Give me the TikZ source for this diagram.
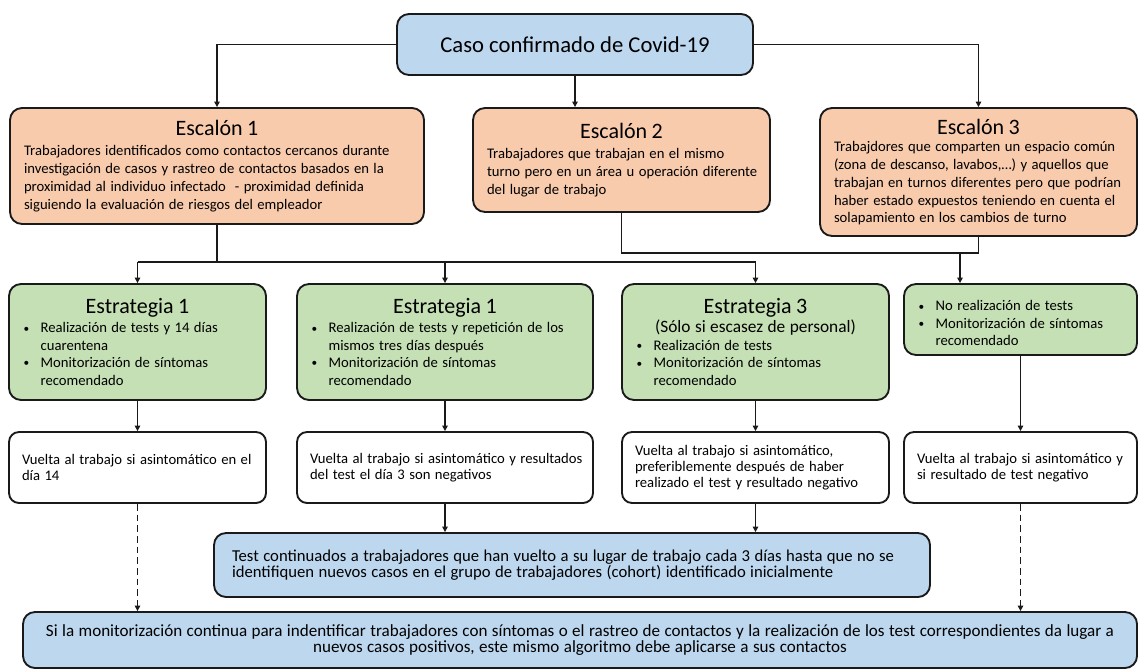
\documentclass[tikz,border=0pt]{standalone}
\usepackage{fontspec}
\setmainfont{Carlito}
\usetikzlibrary{arrows.meta}
\newdimen\px \px=0.75pt
\definecolor{cblue}{HTML}{BDD7EE}
\definecolor{corange}{HTML}{F8CBAD}
\definecolor{cgreen}{HTML}{C5E0B4}
\definecolor{cedge}{HTML}{1A1A1A}
\newcommand{\ttlf}{\fontsize{16.5}{19}\selectfont}
\newcommand{\bdyf}{\fontsize{11}{13.3}\selectfont}
\newcommand{\bulf}{\fontsize{11}{13.1}\selectfont}
\newcommand{\whtf}{\fontsize{11}{12.4}\selectfont}
\newcommand{\bitem}{\par\noindent\hangindent=17\px\hangafter=1\makebox[17\px][l]{\raisebox{0.1ex}{\fontsize{8.5}{8.5}\selectfont\textbullet}}}
\tikzset{
  box/.style={draw=cedge, line width=1.4pt, rounded corners=9pt, inner ysep=0pt, align=left},
  bluebox/.style={box, fill=cblue},
  orangebox/.style={box, fill=corange},
  greenbox/.style={box, fill=cgreen, inner xsep=11pt},
  whitebox/.style={box, fill=white, rounded corners=7.5pt, inner xsep=9.75pt},
  line/.style={draw=cedge, line width=1.2pt},
  conn/.style={line, -{Triangle[length=4pt,width=4pt]}},
  dashconn/.style={conn, dash pattern=on 5pt off 3pt}
}
\begin{document}
\begin{tikzpicture}[x=0.75pt,y=-0.75pt]
\useasboundingbox (0,0) rectangle (1138,670);
% top
\node[bluebox, align=center, minimum width=267pt, minimum height=45.75pt, inner xsep=0pt] (caso) at (575,44.5) {\fontsize{17}{20}\selectfont Caso confirmado de Covid-19};
% escalones
\node[orangebox, inner xsep=10.5pt, text width=289.5pt, minimum height=87pt] (e1) at (217,166)
 {{\centering\ttlf Escal\'on 1\par}\vspace{2pt}\raggedright\bdyf
 \mbox{Trabajadores identificados como contactos cercanos durante}\\
 \mbox{investigaci\'on de casos y rastreo de contactos basados en la}\\
 \mbox{proximidad al individuo infectado\ \ - proximidad definida}\\
 \mbox{siguiendo la evaluaci\'on de riesgos del empleador}\par};
\node[orangebox, inner xsep=10.5pt, text width=201.75pt, minimum height=78pt] (e2) at (621.5,160)
 {{\centering\ttlf Escal\'on 2\par}\vspace{2pt}\raggedright\bdyf
 \mbox{Trabajadores que trabajan en el mismo}\\
 \mbox{turno pero en un \'area u operaci\'on diferente}\\
 \mbox{del lugar de trabajo}\par};
\node[orangebox, inner xsep=10.5pt, text width=216.75pt, minimum height=96pt] (e3) at (978.5,172)
 {{\centering\ttlf Escal\'on 3\par}\raggedright\bdyf
 \mbox{Trabajdores que comparten un espacio com\'un}\\
 \mbox{(zona de descanso, lavabos,\dots) y aquellos que}\\
 \mbox{trabajan en turnos diferentes pero que podr\'ian}\\
 \mbox{haber estado expuestos teniendo en cuenta el}\\
 \mbox{solapamiento en los cambios de turno}\par};
% estrategias
\node[greenbox, text width=170.75pt, minimum height=87pt] (s1) at (137.5,342)
 {{\centering\ttlf Estrategia 1\par}\vspace{1pt}\bulf
 \bitem \mbox{Realizaci\'on de tests y 14 d\'ias}\newline\mbox{cuarentena}
 \bitem \mbox{Monitorizaci\'on de s\'intomas}\newline\mbox{recomendado}\par};
\node[greenbox, text width=200pt, minimum height=87pt] (s2) at (445,342)
 {{\centering\ttlf Estrategia 1\par}\vspace{1pt}\bulf
 \bitem \mbox{Realizaci\'on de tests y repetici\'on de los}\newline\mbox{mismos tres d\'ias despu\'es}
 \bitem \mbox{Monitorizaci\'on de s\'intomas}\newline\mbox{recomendado}\par};
\node[greenbox, text width=178.25pt, minimum height=87pt] (s3) at (755.5,342)
 {{\centering\ttlf Estrategia 3\par}{\centering\fontsize{13}{14.5}\selectfont (S\'olo si escasez de personal)\par}\bulf
 \bitem \mbox{Realizaci\'on de tests}
 \bitem \mbox{Monitorizaci\'on de s\'intomas}\newline\mbox{recomendado}\par};
\node[greenbox, text width=152.75pt, minimum height=53.25pt] (s4) at (1020.5,319.5)
 {\bulf
 \bitem \mbox{No realizaci\'on de tests}
 \bitem \mbox{Monitorizaci\'on de s\'intomas}\newline\mbox{recomendado}\par};
% white boxes
\node[whitebox, text width=173.25pt, minimum height=53.25pt] (w1) at (137.5,467.5)
 {\whtf \mbox{Vuelta al trabajo si asintom\'atico en el}\\ \mbox{d\'ia 14}};
\node[whitebox, text width=202.5pt, minimum height=53.25pt] (w2) at (445,467.5)
 {\whtf \mbox{Vuelta al trabajo si asintom\'atico y resultados}\\ \mbox{del test el d\'ia 3 son negativos}};
\node[whitebox, text width=180.75pt, minimum height=53.25pt] (w3) at (755.5,467.5)
 {\whtf \mbox{Vuelta al trabajo si asintom\'atico,}\\ \mbox{preferiblemente despu\'es de haber}\\ \mbox{realizado el test y resultado negativo}};
\node[whitebox, text width=155.25pt, minimum height=53.25pt] (w4) at (1020.5,467.5)
 {\whtf \mbox{Vuelta al trabajo si asintom\'atico y}\\ \mbox{si resultado de test negativo}};
% bottom blue boxes
\node[bluebox, inner xsep=13.5pt, text width=510pt, minimum height=48pt] (test) at (572,565)
 {\fontsize{12.5}{12.5}\selectfont \mbox{Test continuados a trabajadores que han vuelto a su lugar de trabajo cada 3 d\'ias hasta que no se}\\
 \mbox{identifiquen nuevos casos en el grupo de trabajadores (cohort) identificado inicialmente}};
\node[bluebox, align=center, inner xsep=9pt, text width=817.5pt, minimum height=42pt] (final) at (580,640)
 {\fontsize{12.8}{12.5}\selectfont \mbox{Si la monitorizaci\'on continua para indentificar trabajadores con s\'intomas o el rastreo de contactos y la realizaci\'on de los test correspondientes da lugar a}\\
 \mbox{nuevos casos positivos, este mismo algoritmo debe aplicarse a sus contactos}};
% connectors
\coordinate (bus1) at (0,262);
\coordinate (bus2) at (0,253);
\coordinate (tap4) at (960,253);
\draw[conn] (caso.west) -| (e1.north);
\draw[conn] (caso.south) -- (caso.south |- e2.north);
\draw[conn] (caso.east) -| (e3.north);
\draw[line] (e1.south) -- (e1.south |- bus1);
\draw[line] (s1.north |- bus1) -- (s3.north |- bus1);
\draw[conn] (s1.north |- bus1) -- (s1.north);
\draw[conn] (s2.north |- bus1) -- (s2.north);
\draw[conn] (s3.north |- bus1) -- (s3.north);
\draw[line] (e2.south) |- (e3.south |- bus2) -- (e3.south);
\draw[conn] (tap4) -- (tap4 |- s4.north);
\draw[conn] (s1.south) -- (w1.north);
\draw[conn] (s2.south) -- (w2.north);
\draw[conn] (s3.south) -- (w3.north);
\draw[conn] (s4.south) -- (w4.north);
\draw[conn] (w2.south) -- (w2.south |- test.north);
\draw[conn] (w3.south) -- (w3.south |- test.north);
\draw[dashconn] (w1.south) -- (w1.south |- final.north);
\draw[dashconn] (w4.south) -- (w4.south |- final.north);
\end{tikzpicture}
\end{document}
